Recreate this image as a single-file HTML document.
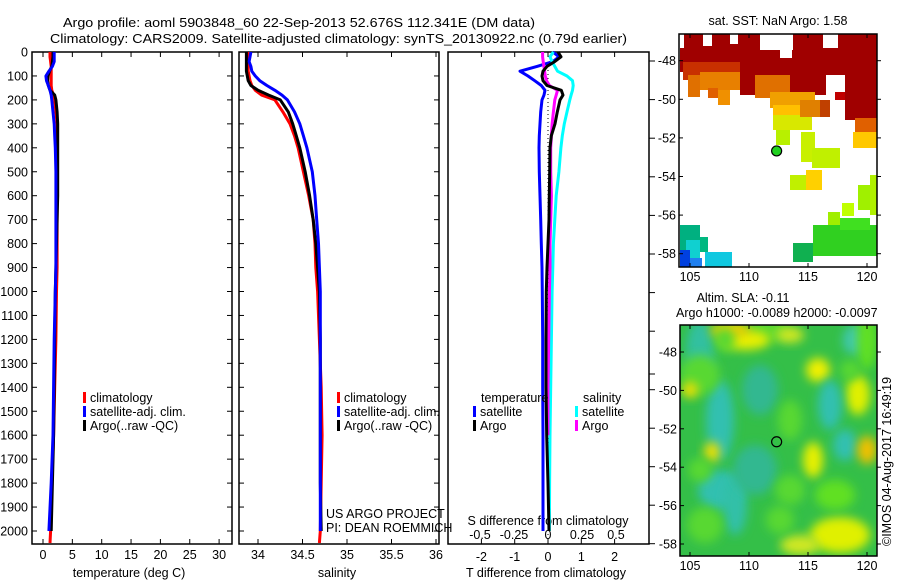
<!DOCTYPE html>
<html><head><meta charset="utf-8"><title>Argo profile</title>
<style>
html,body{margin:0;padding:0;background:#fff;}
svg{display:block;font-family:"Liberation Sans",sans-serif;}
text{fill:#000;font-size:12.5px;}
</style></head>
<body>
<svg id="fig" width="900" height="580" viewBox="0 0 900 580" xmlns="http://www.w3.org/2000/svg">
<rect x="0" y="0" width="900" height="580" fill="#fff"/>
<text x="63" y="27" textLength="472" lengthAdjust="spacingAndGlyphs" font-size="14">Argo profile: aoml 5903848_60 22-Sep-2013 52.676S 112.341E (DM data)</text>
<text x="50" y="43" textLength="577" lengthAdjust="spacingAndGlyphs" font-size="14">Climatology: CARS2009. Satellite-adjusted climatology: synTS_20130922.nc (0.79d earlier)</text>
<g id="g"></g>
</svg>
<script>
// ---------- data ----------
const tDepths = [0,20,40,60,80,100,120,140,160,180,200,250,300,350,400,500,600,700,800,900,1000,1200,1400,1600,1800,2000,2050];
const tempClim = [1.2,1.2,1.3,1.4,1.4,1.4,1.4,1.4,1.5,1.8,2.0,2.2,2.4,2.4,2.4,2.4,2.4,2.4,2.4,2.4,2.3,2.2,2.0,1.8,1.5,1.3,1.2];
const tempArgo = [1.7,1.7,1.6,1.5,1.1,0.85,0.8,0.9,1.2,2.0,2.2,2.4,2.5,2.5,2.5,2.5,2.5,2.4,2.3,2.2,2.1,2.0,1.9,1.8,1.6,1.4,null];
const tempSat  = [1.9,1.9,1.9,1.6,1.0,0.5,0.6,0.9,1.2,1.4,1.5,1.7,1.9,2.0,2.1,2.2,2.2,2.2,2.2,2.2,2.1,1.9,1.8,1.7,1.4,1.0,null];
const salClim = [33.89,33.89,33.89,33.89,33.89,33.9,33.91,33.93,33.97,34.04,34.19,34.28,34.36,34.41,34.45,34.51,34.57,34.62,34.64,34.65,34.67,34.69,34.71,34.72,34.71,34.70,34.69];
const salArgo = [33.87,33.87,33.87,33.87,33.87,33.88,33.89,33.92,34.0,34.12,34.25,34.34,34.39,34.43,34.47,34.53,34.58,34.62,34.65,34.67,34.69,34.70,34.70,34.70,34.70,34.71,null];
const salSat  = [33.92,33.91,33.90,33.92,33.93,33.97,34.02,34.10,34.19,34.27,34.33,34.41,34.47,34.51,34.55,34.61,34.64,34.66,34.68,34.69,34.70,34.70,34.70,34.70,34.70,34.70,null];
const dTSat  = [0.15,0.33,0.15,-0.33,-0.84,-0.6,-0.4,-0.2,-0.09,-0.12,-0.18,-0.22,-0.24,-0.26,-0.27,-0.26,-0.24,-0.22,-0.2,-0.18,-0.17,-0.16,-0.16,-0.15,-0.15,-0.15,null];
const dTArgo = [0.3,0.39,0.2,-0.03,-0.15,-0.18,-0.15,-0.03,0.4,0.45,0.36,0.28,0.21,0.1,0.06,0.05,0.04,0.03,0.0,-0.03,-0.05,-0.06,-0.06,-0.04,0.0,0.03,null];
const dSSat  = [0.04,0.015,0.03,0.05,0.07,0.14,0.18,0.185,0.18,0.17,0.16,0.14,0.12,0.105,0.095,0.08,0.06,0.05,0.04,0.035,0.03,0.025,0.02,0.015,0.012,0.01,null];
const dSArgo = [-0.04,-0.04,-0.035,-0.03,-0.025,-0.02,-0.01,0.01,0.07,0.06,0.05,0.04,0.03,0.025,0.02,0.02,0.025,0.02,0.015,0.015,0.01,0.005,0.0,0.0,null,null,null];
const depthTicks = [0,100,200,300,400,500,600,700,800,900,1000,1100,1200,1300,1400,1500,1600,1700,1800,1900,2000];
const tempTicks = [0,5,10,15,20,25,30];
const salTicks = [34,34.5,35,35.5,36];
const dTTicks = [-2,-1,0,1,2];
const dSTicks = [-0.5,-0.25,0,0.25,0.5];
const latTicks = [-48,-50,-52,-54,-56,-58];
const lonTicks = [105,110,115,120];
const argoLon = 112.341, argoLat = -52.676;

// ---------- helpers ----------
const NS="http://www.w3.org/2000/svg";
const G=document.getElementById('g');
function mk(tag,attrs,parent){const e=document.createElementNS(NS,tag);for(const k in attrs)e.setAttribute(k,attrs[k]);(parent||G).appendChild(e);return e;}
function txt(x,y,s,anchor,size){const e=mk('text',{x:x,y:y,'text-anchor':anchor||'start'});if(size)e.setAttribute('font-size',size);e.textContent=s;return e;}
const TOP=52, BOT=544;
const yD=d=>TOP+d*0.2395;
const xT=t=>43+t*5.87;
const xS=s=>258+(s-34)*89;
const xdT=v=>548+v*33.3;
const xdS=v=>548+v*136;
const P1={l:32,r:232}, P2={l:239,r:439}, P3={l:448,r:649};

function frame(P,name){
  const r=mk('rect',{x:P.l,y:TOP,width:P.r-P.l,height:BOT-TOP,fill:'#fff',stroke:'#000','stroke-width':1.5});
  
  
}
frame(P1,'temperature-panel');
frame(P2,'salinity-panel');
frame(P3,'difference-panel');

depthTicks.forEach(d=>{
  const y=yD(d);
  [P1,P2].forEach(P=>{
    mk('line',{x1:P.l,x2:P.l+5,y1:y,y2:y,stroke:'#000'});
    mk('line',{x1:P.r-5,x2:P.r,y1:y,y2:y,stroke:'#000'});
  });
  const t=txt(28,y+4.5,String(d),'end');
  
  
});
function xticks(ticks,fx,P,ly,name){
  ticks.forEach(v=>{
    const x=fx(v);
    mk('line',{x1:x,x2:x,y1:TOP,y2:TOP+5,stroke:'#000'});
    mk('line',{x1:x,x2:x,y1:BOT-5,y2:BOT,stroke:'#000'});
    if(ly){const t=txt(x,ly,String(v),'middle');
      
      }
  });
}
xticks(tempTicks,xT,P1,559,'temperature-tick-label');
xticks(salTicks,xS,P2,559,'salinity-tick-label');
xticks(dTTicks,xdT,P3,561,'t-difference-tick-label');
[61,99.6,138.2,176.8,215.4,254,292.6,331.2,374,389.7,428.2,466.7,505.2,543.7].forEach(y=>mk('line',{x1:649,x2:655,y1:y,y2:y,stroke:'#000'}));
dSTicks.forEach(v=>{const t=txt(xdS(v),539,String(v),'middle');
  
  });

let t;
t=txt(129,577,'temperature (deg C)','middle');
t=txt(337,577,'salinity','middle');
t=txt(546,577,'T difference from climatology','middle');
t=txt(548,525,'S difference from climatology','middle');
t=txt(326,518,'US ARGO PROJECT');
t=txt(326,532,'PI: DEAN ROEMMICH');

mk('line',{x1:548,x2:548,y1:62,y2:BOT,stroke:'#000','stroke-dasharray':'1 3'});

function profile(vals,fx,color,name,w){
  let d='';let started=false;
  for(let i=0;i<tDepths.length;i++){
    if(vals[i]===null||vals[i]===undefined){continue;}
    const x=fx(vals[i]).toFixed(1), y=yD(tDepths[i]).toFixed(1);
    d+=(started?'L':'M')+x+' '+y+' ';started=true;
  }
  const p=mk('path',{d:d,fill:'none',stroke:color,'stroke-width':w||3,'stroke-linejoin':'round'});
  
  
}
profile(tempClim,xT,'#ff0000','temperature-climatology-line');
profile(tempArgo,xT,'#000000','temperature-argo-line');
profile(tempSat,xT,'#0000ff','temperature-satellite-line');
profile(salClim,xS,'#ff0000','salinity-climatology-line');
profile(salArgo,xS,'#000000','salinity-argo-line');
profile(salSat,xS,'#0000ff','salinity-satellite-line');
profile(dTSat,xdT,'#0000ff','t-difference-satellite-line');
profile(dSSat,xdS,'#00ffff','s-difference-satellite-line');
profile(dSArgo,xdS,'#ff00ff','s-difference-argo-line');
profile(dTArgo,xdT,'#000000','t-difference-argo-line');

function legendItem(x,y,color,label,name){
  const r=mk('rect',{x:x,y:y-10,width:3,height:11,fill:color});
  
  
  const t=txt(x+7,y,label);
  
  
}
legendItem(83,402,'#ff0000','climatology','legend-climatology');
legendItem(83,416,'#0000ff','satellite-adj. clim.','legend-satellite-adj');
legendItem(83,430,'#000','Argo(..raw -QC)','legend-argo');
legendItem(337,402,'#ff0000','climatology','legend-climatology-sal');
legendItem(337,416,'#0000ff','satellite-adj. clim.','legend-satellite-adj-sal');
legendItem(337,430,'#000','Argo(..raw -QC)','legend-argo-sal');
t=txt(481,402,'temperature');
t=txt(583,402,'salinity');
legendItem(473,416,'#0000ff','satellite','legend-t-satellite');
legendItem(473,430,'#000','Argo','legend-t-argo');
legendItem(575,416,'#00ffff','satellite','legend-s-satellite');
legendItem(575,430,'#ff00ff','Argo','legend-s-argo');

// ---------- maps ----------
const M1={l:679,r:877,t:34,b:267,lat0:60.7,sy:19.3};
const M2={l:680,r:877,t:325,b:556,lat0:352,sy:19.2};
const mx=lon=>690+(lon-105)*11.8;
function mapAxes(M,name,lbY){
  mk('rect',{x:M.l,y:M.t,width:M.r-M.l,height:M.b-M.t,fill:'none',stroke:'#000','stroke-width':1.5});
  latTicks.forEach(la=>{const y=M.lat0+(-48-la)*M.sy;
    mk('line',{x1:M.l,x2:M.l+4,y1:y,y2:y,stroke:'#000'});
    mk('line',{x1:M.r,x2:M.r+4,y1:y,y2:y,stroke:'#000'});
    const t=txt(M.l-3,y+4.5,String(la),'end');
    
    });
  lonTicks.forEach(lo=>{const x=mx(lo);
    mk('line',{x1:x,x2:x,y1:M.b-4,y2:M.b,stroke:'#000'});
    mk('line',{x1:x,x2:x,y1:M.t,y2:M.t+4,stroke:'#000'});
    const t=txt(x,lbY,String(lo),'middle');
    
    });
}
const sst=[
 [680,34,877,62,'#a00000'],[680,62,690,72,'#a00000'],
 [740,57,826,95,'#a00000'],[845,57,877,120,'#a00000'],[826,62,845,75,'#a00000'],
 [683,62,740,80,'#c83000'],[688,75,700,97,'#e07000'],[700,72,740,90,'#e88000'],[718,90,730,105,'#f09000'],[708,88,718,98,'#e06000'],
 [755,75,790,98,'#e07000'],[770,92,815,108,'#f0a000'],[773,105,812,117,'#ffc000'],[773,115,812,130,'#d8e800'],[776,130,790,145,'#b8f000'],
 [800,100,820,117,'#e08000'],[820,100,830,117,'#c04000'],[835,92,845,100,'#c00000'],
 [855,118,877,132,'#e06000'],[853,132,877,148,'#ffc800'],
 [801,132,815,162,'#c8f000'],[812,148,840,168,'#c0f000'],[806,170,822,190,'#ffd000'],[790,175,806,190,'#c0f000'],
 [858,185,870,210,'#a0f000'],[870,175,877,215,'#b0f000'],[842,203,854,216,'#c0ff00'],[828,212,840,225,'#a0ee00'],
 [813,225,877,256,'#30d020'],[793,243,813,262,'#10b050'],[840,218,870,230,'#40e020'],
 [680,225,700,265,'#00b080'],[686,240,700,258,'#10d0d0'],[700,237,708,252,'#00b880'],[705,252,732,267,'#10c8e0'],[680,250,690,267,'#0040e0'],[690,258,702,267,'#2080f0']
];
const holes=[[703,34,712,46,'#fff'],[760,34,793,50,'#fff'],[823,34,838,48,'#fff'],[730,34,738,44,'#fff'],[780,50,792,58,'#fff'],[680,34,684,48,'#fff']];
const m1=mk('g',{});


sst.concat(holes).forEach(p=>mk('rect',{x:p[0],y:p[1],width:p[2]-p[0],height:p[3]-p[1],fill:p[4]},m1));
mapAxes(M1,'sst-map',281);
const c1=mk('circle',{cx:mx(argoLon),cy:M1.lat0+(-48-argoLat)*M1.sy,r:5,fill:'#20d020',stroke:'#000','stroke-width':1.2});



const defs=mk('defs',{});
const f=mk('filter',{id:'bl',x:'-50%',y:'-50%',width:'200%',height:'200%'},defs);
mk('feGaussianBlur',{stdDeviation:5},f);
const cp=mk('clipPath',{id:'cp2'},defs);
mk('rect',{x:M2.l,y:M2.t,width:M2.r-M2.l,height:M2.b-M2.t},cp);
const m2=mk('g',{'clip-path':'url(#cp2)'});


mk('rect',{x:M2.l,y:M2.t,width:M2.r-M2.l,height:M2.b-M2.t,fill:'#34bf48'},m2);
const blobs=[
 [700,350,14,30,'#30c0a0'],[720,420,14,40,'#30c0b0'],[720,490,22,20,'#30c0b0'],[735,505,12,30,'#30c0a8'],[770,330,20,12,'#58d830'],
 [745,340,25,10,'#e8f000'],[730,330,20,8,'#f0d000'],[790,335,14,8,'#d0e820'],[818,370,12,12,'#f0f000'],[858,395,12,20,'#e0f000'],
 [712,452,8,10,'#f0e000'],[700,375,20,20,'#58d830'],[830,405,12,25,'#30c0b0'],[813,460,10,18,'#e8f000'],[845,445,12,16,'#30c0b0'],
 [867,450,10,14,'#f0c000'],[840,535,30,18,'#e0f000'],[800,545,20,10,'#d0e820'],[690,390,8,8,'#f0e000'],[855,340,12,15,'#40c8b0'],
 [760,390,18,25,'#30b890'],[755,470,22,25,'#30b890'],[790,490,15,15,'#58d830'],[835,495,20,15,'#60e020'],[705,525,18,18,'#58d830'],[725,340,10,12,'#58d830'],[867,340,10,30,'#60e020'],
 [790,420,12,20,'#58d830'],[850,370,10,10,'#58d830'],[700,470,12,12,'#58d830'],[780,520,14,14,'#58d830']
];
blobs.forEach(b=>mk('ellipse',{cx:b[0],cy:b[1],rx:b[2],ry:b[3],fill:b[4],filter:'url(#bl)'},m2));
mapAxes(M2,'sla-map',570);
const c2=mk('circle',{cx:mx(argoLon),cy:M2.lat0+(-48-argoLat)*M2.sy,r:5,fill:'none',stroke:'#000','stroke-width':1.2});



t=txt(778,25,'sat. SST: NaN Argo: 1.58','middle');
t=txt(743,302,'Altim. SLA: -0.11','middle');
t=txt(676,317,'Argo h1000: -0.0089 h2000: -0.0097');
t=txt(0,0,'\u00a9IMOS 04-Aug-2017 16:49:19');t.setAttribute('transform','translate(891,546) rotate(-90)');

</script>
</body></html>
